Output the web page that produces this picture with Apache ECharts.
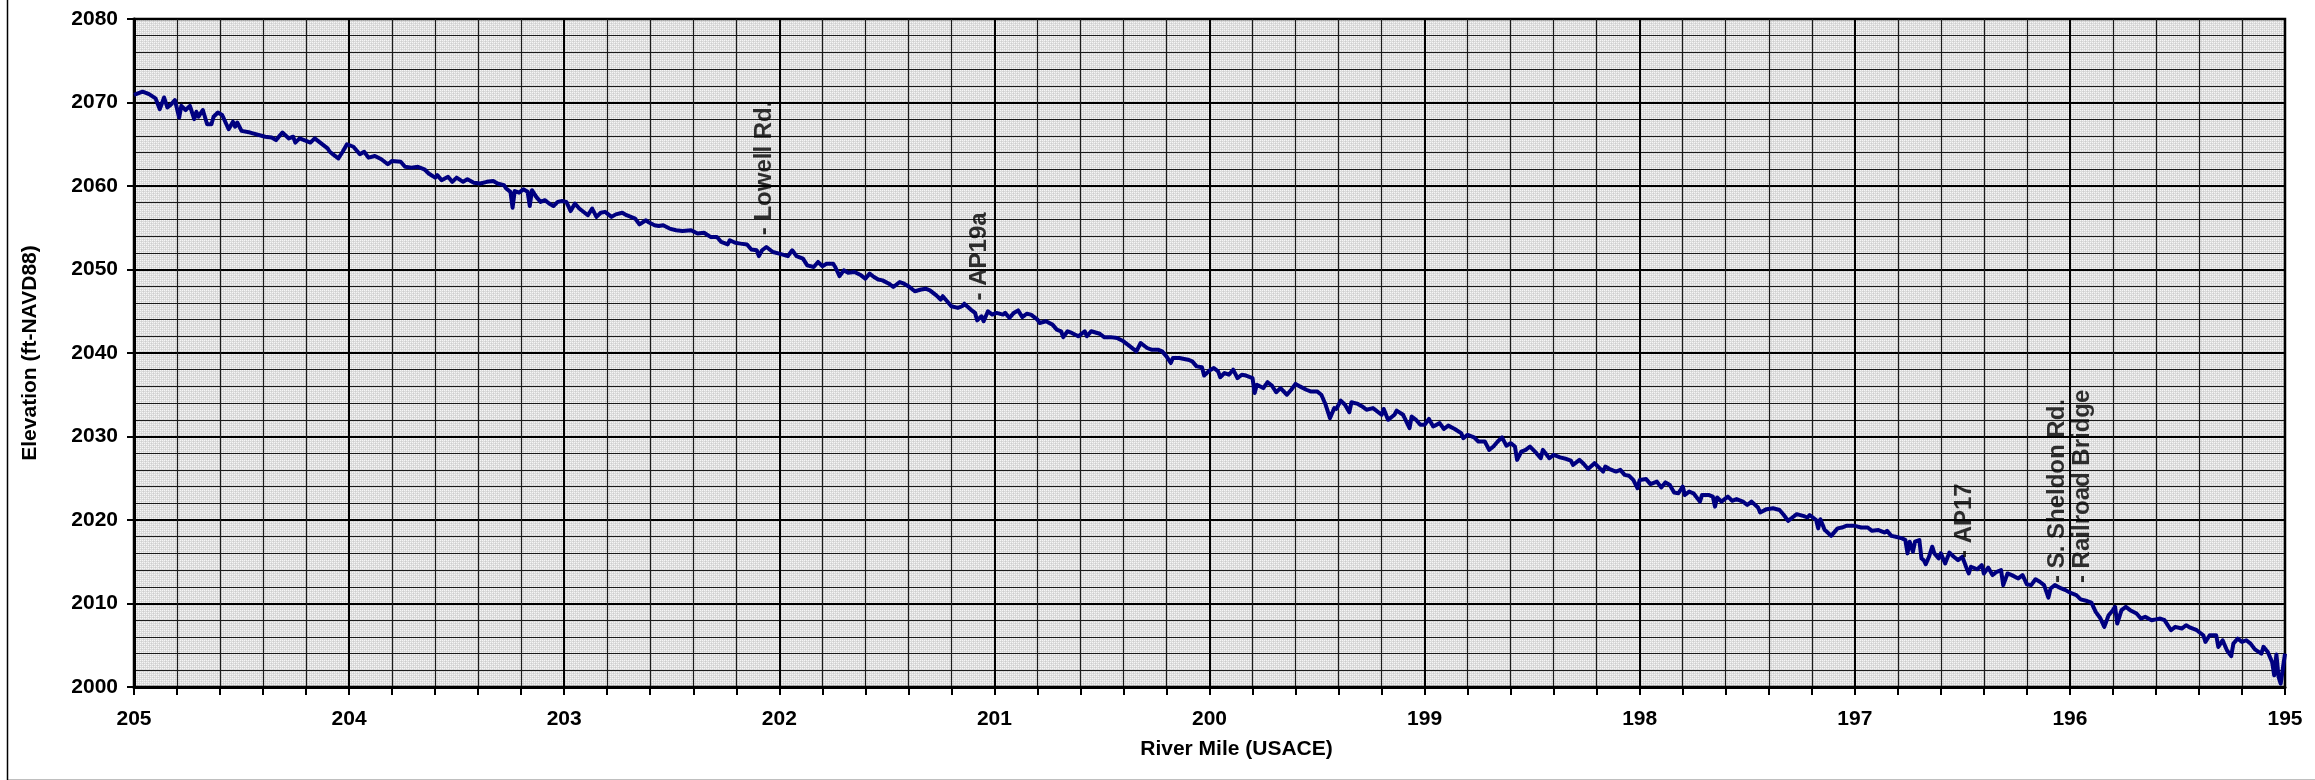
<!DOCTYPE html>
<html>
<head>
<meta charset="utf-8">
<title>River Profile</title>
<script src="https://cdn.jsdelivr.net/npm/echarts@6/dist/echarts.min.js"></script>
<style>
  html, body { margin: 0; padding: 0; background: #ffffff; }
  #chart { width: 2315px; height: 780px; }
</style>
</head>
<body>
<div id="chart"></div>
<script>
// River mile (USACE) of each surveyed thalweg point, upstream to downstream
const riverMile = [
  205.00, 204.96, 204.93, 204.90, 204.88, 204.86, 204.845, 204.83, 204.81, 204.79,
  204.78, 204.76, 204.74, 204.72, 204.71, 204.70, 204.68, 204.66, 204.64, 204.63,
  204.61, 204.59, 204.56, 204.54, 204.53, 204.52, 204.50, 204.46, 204.39, 204.36,
  204.34, 204.31, 204.28, 204.26, 204.25, 204.23, 204.20, 204.18, 204.16, 204.13,
  204.10, 204.09, 204.07, 204.05, 204.03, 204.01, 203.98, 203.95, 203.93, 203.91,
  203.88, 203.85, 203.82, 203.80, 203.76, 203.74, 203.71, 203.68, 203.65, 203.63,
  203.60, 203.59, 203.57, 203.54, 203.52, 203.50, 203.47, 203.45, 203.42, 203.39,
  203.36, 203.33, 203.31, 203.28, 203.27, 203.25, 203.24, 203.23, 203.21, 203.19,
  203.17, 203.16, 203.15, 203.13, 203.11, 203.09, 203.07, 203.05, 203.03, 203.01,
  202.99, 202.97, 202.95, 202.93, 202.89, 202.87, 202.85, 202.83, 202.81, 202.78,
  202.76, 202.73, 202.71, 202.67, 202.65, 202.62, 202.61, 202.58, 202.56, 202.54,
  202.51, 202.48, 202.45, 202.41, 202.38, 202.35, 202.32, 202.29, 202.27, 202.24,
  202.23, 202.205, 202.18, 202.15, 202.13, 202.105, 202.095, 202.08, 202.06, 202.03,
  202.00, 201.96, 201.94, 201.92, 201.89, 201.87, 201.84, 201.82, 201.80, 201.78,
  201.75, 201.74, 201.72, 201.70, 201.68, 201.65, 201.62, 201.60, 201.58, 201.56,
  201.54, 201.52, 201.49, 201.47, 201.44, 201.42, 201.40, 201.37, 201.34, 201.32,
  201.30, 201.27, 201.25, 201.24, 201.22, 201.20, 201.17, 201.15, 201.14, 201.11,
  201.09, 201.08, 201.06, 201.05, 201.03, 201.01, 200.99, 200.96, 200.95, 200.93,
  200.91, 200.89, 200.87, 200.85, 200.83, 200.80, 200.79, 200.76, 200.73, 200.71,
  200.69, 200.68, 200.66, 200.64, 200.61, 200.58, 200.57, 200.55, 200.51, 200.49,
  200.46, 200.43, 200.40, 200.38, 200.34, 200.32, 200.29, 200.27, 200.24, 200.22,
  200.20, 200.18, 200.17, 200.14, 200.10, 200.08, 200.06, 200.035, 200.025, 200.00,
  199.98, 199.96, 199.95, 199.93, 199.91, 199.89, 199.87, 199.85, 199.83, 199.80,
  199.79, 199.78, 199.75, 199.73, 199.71, 199.69, 199.67, 199.64, 199.62, 199.60,
  199.58, 199.55, 199.53, 199.50, 199.48, 199.46, 199.44, 199.42, 199.41, 199.39,
  199.37, 199.35, 199.34, 199.31, 199.29, 199.27, 199.24, 199.20, 199.19, 199.17,
  199.14, 199.13, 199.10, 199.07, 199.06, 199.04, 199.02, 199.00, 198.98, 198.96,
  198.93, 198.91, 198.89, 198.86, 198.83, 198.82, 198.80, 198.77, 198.75, 198.72,
  198.70, 198.68, 198.66, 198.64, 198.62, 198.60, 198.58, 198.57, 198.55, 198.53,
  198.51, 198.48, 198.46, 198.45, 198.42, 198.40, 198.37, 198.34, 198.32, 198.31,
  198.28, 198.26, 198.24, 198.21, 198.19, 198.17, 198.16, 198.14, 198.11, 198.09,
  198.07, 198.05, 198.03, 198.01, 198.00, 197.97, 197.95, 197.92, 197.90, 197.88,
  197.86, 197.84, 197.82, 197.80, 197.79, 197.77, 197.75, 197.72, 197.71, 197.68,
  197.66, 197.65, 197.64, 197.62, 197.59, 197.57, 197.55, 197.52, 197.50, 197.48,
  197.45, 197.44, 197.41, 197.38, 197.35, 197.33, 197.31, 197.29, 197.27, 197.24,
  197.22, 197.21, 197.18, 197.17, 197.16, 197.14, 197.13, 197.11, 197.08, 197.06,
  197.04, 197.00, 196.97, 196.94, 196.92, 196.89, 196.86, 196.85, 196.83, 196.81,
  196.78, 196.765, 196.755, 196.745, 196.73, 196.72, 196.70, 196.69, 196.68, 196.67,
  196.655, 196.64, 196.63, 196.61, 196.60, 196.58, 196.56, 196.54, 196.52, 196.50,
  196.48, 196.47, 196.46, 196.43, 196.41, 196.40, 196.38, 196.36, 196.34, 196.32,
  196.31, 196.29, 196.27, 196.24, 196.22, 196.20, 196.18, 196.16, 196.14, 196.12,
  196.10, 196.09, 196.07, 196.04, 196.02, 196.00, 195.97, 195.95, 195.92, 195.90,
  195.88, 195.86, 195.84, 195.82, 195.80, 195.79, 195.78, 195.76, 195.74, 195.72,
  195.69, 195.67, 195.65, 195.62, 195.60, 195.58, 195.56, 195.53, 195.51, 195.48,
  195.46, 195.44, 195.41, 195.38, 195.37, 195.35, 195.32, 195.31, 195.29, 195.27,
  195.25, 195.24, 195.22, 195.20, 195.18, 195.16, 195.14, 195.11, 195.10, 195.08,
  195.06, 195.05, 195.04, 195.03, 195.02, 195.01, 195.00
];

// Channel bed elevation (ft-NAVD88) at each river mile above
const bedElevation = [
  2070.9, 2071.3, 2071.0, 2070.5, 2069.2, 2070.6, 2069.4, 2069.7, 2070.3, 2068.2,
  2069.6, 2069.1, 2069.6, 2068.0, 2068.9, 2068.3, 2069.1, 2067.4, 2067.4, 2068.3,
  2068.8, 2068.5, 2066.8, 2067.7, 2067.1, 2067.6, 2066.6, 2066.4, 2065.9, 2065.8,
  2065.5, 2066.4, 2065.7, 2065.9, 2065.2, 2065.7, 2065.4, 2065.2, 2065.7, 2065.1,
  2064.5, 2064.1, 2063.7, 2063.3, 2064.1, 2065.0, 2064.7, 2063.8, 2064.1, 2063.4,
  2063.6, 2063.2, 2062.6, 2063.0, 2062.9, 2062.3, 2062.2, 2062.3, 2062.0, 2061.5,
  2061.0, 2061.3, 2060.7, 2061.1, 2060.5, 2061.0, 2060.5, 2060.8, 2060.4, 2060.3,
  2060.5, 2060.6, 2060.3, 2060.1, 2059.7, 2059.3, 2057.4, 2059.4, 2059.2, 2059.6,
  2059.3, 2057.6, 2059.5, 2058.7, 2058.1, 2058.3, 2057.9, 2057.6, 2058.1, 2058.2,
  2058.1, 2057.0, 2057.9, 2057.3, 2056.5, 2057.3, 2056.3, 2056.8, 2056.9, 2056.3,
  2056.6, 2056.8, 2056.5, 2056.1, 2055.4, 2055.9, 2055.7, 2055.3, 2055.2, 2055.3,
  2054.9, 2054.7, 2054.6, 2054.7, 2054.3, 2054.4, 2053.9, 2053.9, 2053.3, 2053.0,
  2053.5, 2053.2, 2053.1, 2053.0, 2052.4, 2052.3, 2051.6, 2052.3, 2052.7, 2052.1,
  2051.9, 2051.6, 2052.3, 2051.6, 2051.3, 2050.5, 2050.3, 2050.9, 2050.4, 2050.7,
  2050.7, 2050.3, 2049.2, 2049.9, 2049.6, 2049.7, 2049.3, 2048.9, 2049.5, 2049.1,
  2048.8, 2048.7, 2048.3, 2047.9, 2048.5, 2048.3, 2048.0, 2047.4, 2047.6, 2047.7,
  2047.5, 2046.9, 2046.4, 2046.8, 2046.2, 2045.6, 2045.4, 2045.6, 2045.9, 2045.2,
  2044.8, 2043.9, 2044.4, 2043.8, 2045.0, 2044.6, 2044.8, 2044.6, 2044.8, 2044.2,
  2044.8, 2045.1, 2044.3, 2044.7, 2044.6, 2044.0, 2043.6, 2043.8, 2043.4, 2042.8,
  2042.6, 2041.9, 2042.6, 2042.4, 2042.0, 2042.6, 2042.0, 2042.6, 2042.3, 2041.9,
  2041.9, 2041.8, 2041.4, 2041.0, 2040.2, 2041.2, 2040.6, 2040.4, 2040.4, 2040.2,
  2039.6, 2038.8, 2039.4, 2039.4, 2039.2, 2039.0, 2038.4, 2038.3, 2037.3, 2037.9,
  2038.2, 2037.8, 2037.1, 2037.6, 2037.4, 2038.0, 2037.0, 2037.4, 2037.3, 2037.0,
  2035.2, 2036.2, 2035.8, 2036.5, 2036.1, 2035.3, 2035.8, 2035.0, 2035.6, 2036.3,
  2036.0, 2035.6, 2035.4, 2035.4, 2035.0, 2033.8, 2032.2, 2033.4, 2033.3, 2034.3,
  2033.8, 2032.9, 2034.1, 2033.9, 2033.6, 2033.2, 2033.4, 2032.6, 2033.3, 2032.0,
  2032.6, 2033.1, 2032.6, 2031.0, 2032.4, 2032.0, 2031.4, 2031.4, 2032.1, 2031.2,
  2031.6, 2030.9, 2031.3, 2030.9, 2030.4, 2029.8, 2030.2, 2029.9, 2029.4, 2029.4,
  2028.4, 2028.8, 2029.4, 2029.9, 2028.9, 2029.2, 2028.8, 2027.2, 2028.2, 2028.4,
  2028.8, 2028.0, 2027.4, 2028.4, 2027.4, 2027.8, 2027.5, 2027.3, 2027.1, 2026.6,
  2027.2, 2026.7, 2026.1, 2026.8, 2026.3, 2025.8, 2026.4, 2026.1, 2025.8, 2026.0,
  2025.4, 2025.3, 2024.8, 2023.8, 2024.8, 2024.9, 2024.3, 2024.6, 2023.9, 2024.5,
  2024.2, 2023.3, 2023.2, 2024.0, 2023.0, 2023.4, 2023.2, 2022.2, 2023.0, 2023.0,
  2022.8, 2021.6, 2022.7, 2022.2, 2022.8, 2022.3, 2022.5, 2022.2, 2021.8, 2022.2,
  2021.5, 2020.9, 2021.3, 2021.4, 2021.2, 2020.6, 2019.9, 2020.3, 2020.7, 2020.5,
  2020.3, 2020.6, 2020.0, 2019.0, 2020.1, 2018.8, 2018.6, 2018.1, 2019.0, 2019.1,
  2019.3, 2019.3, 2019.1, 2019.1, 2018.7, 2018.8, 2018.5, 2018.7, 2018.1, 2018.0,
  2017.8, 2017.6, 2016.0, 2017.4, 2016.2, 2017.4, 2017.6, 2015.4, 2015.2, 2014.7,
  2015.6, 2016.8, 2016.0, 2015.4, 2016.0, 2014.8, 2016.1, 2015.6, 2015.2, 2015.6,
  2014.2, 2013.6, 2014.4, 2014.1, 2014.6, 2013.6, 2014.3, 2013.4, 2013.8, 2014.0,
  2012.2, 2013.6, 2013.4, 2013.0, 2013.4, 2012.3, 2012.2, 2012.9, 2012.6, 2012.2,
  2010.7, 2011.8, 2012.2, 2011.8, 2011.6, 2011.3, 2011.0, 2010.5, 2010.3, 2010.1,
  2009.0, 2008.3, 2007.2, 2008.6, 2009.2, 2009.6, 2007.6, 2009.2, 2009.6, 2009.2,
  2008.8, 2008.2, 2008.4, 2008.0, 2008.1, 2008.2, 2008.0, 2006.8, 2007.2, 2007.0,
  2007.4, 2007.1, 2006.8, 2006.2, 2005.4, 2006.2, 2006.2, 2004.8, 2005.6, 2004.4,
  2003.7, 2005.2, 2005.8, 2005.4, 2005.6, 2005.2, 2004.5, 2004.0, 2004.8, 2004.2,
  2003.0, 2001.4, 2003.9, 2001.2, 2000.4, 2002.2, 2004.0
];

// Landmark callouts: text, river mile, and elevation where the text starts
const landmarkText = ['- Lowell Rd.', '- AP19a', '- AP17', '- S. Sheldon Rd.', '- Railroad Bridge'];
const landmarkMile = [202.07, 201.07, 196.49, 196.06, 195.94];
const landmarkElev = [2054.1, 2046.3, 2015.45, 2012.45, 2012.45];

// Axis ranges and titles
const mileRange = [195, 205];
const elevRange = [2000, 2080];
const xTitle = 'River Mile (USACE)';
const yTitle = 'Elevation (ft-NAVD88)';

const FONT = '"Liberation Sans", Arial, sans-serif';

// Fine stippled fill for the plotting area
function stipple() {
  const c = document.createElement('canvas');
  c.width = 4; c.height = 4;
  const g = c.getContext('2d');
  g.fillStyle = '#dcdcdc';
  g.fillRect(0, 0, 4, 4);
  g.fillStyle = '#f6f6f6';
  g.fillRect(0, 0, 1, 1);
  g.fillRect(2, 2, 1, 1);
  g.fillRect(2, 0, 1, 1);
  g.fillRect(0, 2, 1, 1);
  g.fillStyle = '#cdcdcd';
  g.fillRect(1, 1, 1, 1);
  g.fillRect(3, 3, 1, 1);
  return c;
}

const profile = riverMile.map((m, i) => [m, bedElevation[i]]);
const landmarks = landmarkText.map((t, i) => ({ name: t, value: [landmarkMile[i], landmarkElev[i]] }));

const chart = echarts.init(document.getElementById('chart'), null, { renderer: 'canvas' });

chart.setOption({
  animation: false,
  backgroundColor: '#ffffff',
  graphic: [{
    type: 'rect',
    left: 5, top: -5,
    shape: { width: 2330, height: 783 },
    style: { fill: 'none', stroke: '#000', lineWidth: 1.5 },
    silent: true,
    z: -10
  }],
  grid: {
    left: 134, right: 30, top: 19, bottom: 93,
    show: true,
    backgroundColor: { image: stipple(), repeat: 'repeat' },
    borderColor: '#000',
    borderWidth: 2.5
  },
  xAxis: {
    type: 'value',
    min: mileRange[0], max: mileRange[1],
    interval: 1,
    inverse: true,
    name: xTitle,
    nameLocation: 'middle',
    nameGap: 52,
    nameTextStyle: { fontFamily: FONT, fontWeight: 'bold', fontSize: 21, color: '#000', padding: [0, 0, 0, 54] },
    axisLine: { show: true, onZero: false, lineStyle: { color: '#000', width: 3 } },
    axisTick: { show: true, inside: false, length: 8, lineStyle: { color: '#000', width: 2 } },
    minorTick: { show: true, splitNumber: 5, length: 8, lineStyle: { color: '#000', width: 2 } },
    axisLabel: { fontFamily: FONT, fontWeight: 'bold', fontSize: 21, color: '#000', margin: 22 },
    splitLine: { show: true, lineStyle: { color: '#000', width: 2 } },
    minorSplitLine: { show: true, lineStyle: { color: '#1a1a1a', width: 1.2 } }
  },
  yAxis: {
    type: 'value',
    min: elevRange[0], max: elevRange[1],
    interval: 10,
    name: yTitle,
    nameLocation: 'middle',
    nameGap: 93,
    nameRotate: 90,
    nameTextStyle: { fontFamily: FONT, fontWeight: 'bold', fontSize: 21, color: '#000', padding: [0, 0, 0, 0] },
    axisLine: { show: true, onZero: false, lineStyle: { color: '#000', width: 3 } },
    axisTick: { show: true, inside: false, length: 7, lineStyle: { color: '#000', width: 2 } },
    minorTick: { show: false, splitNumber: 5 },
    axisLabel: {
      fontFamily: FONT, fontWeight: 'bold', fontSize: 21, color: '#000', margin: 16,
      formatter: v => String(v)
    },
    splitLine: { show: true, lineStyle: { color: '#000', width: 2 } },
    minorSplitLine: { show: true, lineStyle: { color: '#1a1a1a', width: 1.2 } }
  },
  series: [
    {
      name: 'Thalweg',
      type: 'line',
      data: profile,
      showSymbol: false,
      symbol: 'none',
      smooth: false,
      lineStyle: { color: '#000080', width: 4, join: 'round' },
      z: 5
    },
    {
      name: 'Landmarks',
      type: 'scatter',
      data: landmarks,
      symbolSize: 0,
      silent: true,
      label: {
        show: true,
        position: 'inside',
        rotate: 90,
        align: 'left',
        verticalAlign: 'middle',
        formatter: p => p.name,
        fontFamily: FONT,
        fontWeight: 'bold',
        fontSize: 24,
        color: '#000'
      },
      z: 6
    }
  ]
});
</script>
</body>
</html>
